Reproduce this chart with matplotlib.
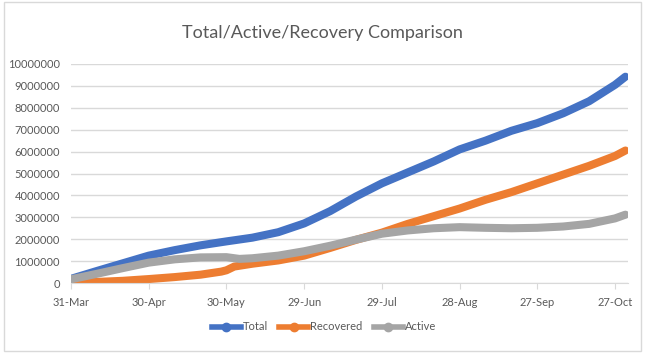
import datetime as dt
import matplotlib
matplotlib.use("Agg")
import matplotlib.pyplot as plt
import matplotlib.dates as mdates
from matplotlib.patches import Rectangle

# days since 31-Mar, values in millions
start = dt.date(2020, 3, 31)
days_total = [0, 10, 20, 30, 40, 50, 60, 70, 80, 90, 100, 110, 120, 130, 140, 150, 160, 170, 180, 190, 200, 210, 214]
total = [0.19, 0.55, 0.9, 1.25, 1.5, 1.72, 1.9, 2.07, 2.32, 2.72, 3.28, 3.95, 4.55, 5.05, 5.55, 6.1, 6.5, 6.95, 7.3, 7.75, 8.3, 9.05, 9.42]
days_rec = [0, 10, 20, 30, 40, 50, 58, 60, 63, 70, 80, 90, 100, 110, 120, 130, 140, 150, 160, 170, 180, 190, 200, 210, 214]
recovered = [0.01, 0.05, 0.1, 0.18, 0.27, 0.38, 0.52, 0.58, 0.75, 0.88, 1.03, 1.25, 1.6, 1.97, 2.3, 2.7, 3.05, 3.4, 3.8, 4.15, 4.55, 4.95, 5.35, 5.8, 6.05]
days_act = [0, 10, 20, 30, 40, 50, 60, 65, 70, 80, 90, 100, 110, 120, 130, 140, 150, 160, 170, 180, 190, 200, 210, 214]
active = [0.17, 0.42, 0.68, 0.93, 1.08, 1.17, 1.18, 1.1, 1.13, 1.25, 1.45, 1.7, 1.98, 2.25, 2.4, 2.5, 2.55, 2.52, 2.5, 2.52, 2.58, 2.7, 2.95, 3.12]

series = [
    ("Total", days_total, total, "#4472C4"),
    ("Recovered", days_rec, recovered, "#ED7D31"),
    ("Active", days_act, active, "#A5A5A5"),
]

plt.rcParams["font.family"] = ["Lato", "DejaVu Sans"]
txt = "#595959"
grid = "#D9D9D9"

fig = plt.figure(figsize=(6.53, 3.58), dpi=100)
fig.patches.append(Rectangle((4 / 653, 1 - 351 / 358), 637 / 653, 349 / 358,
                             transform=fig.transFigure, fill=False, edgecolor=grid, lw=1))
ax = fig.add_axes([71 / 653, 1 - 283 / 358, (628 - 71) / 653, (283 - 64) / 358])

for name, d, v, c in series:
    x = [start + dt.timedelta(days=k) for k in d]
    y = [val * 1e6 for val in v]
    ax.plot(x, y, color=c, lw=5.8, solid_capstyle="round", solid_joinstyle="round", label=name)

ax.set_ylim(0, 10_000_000)
ax.set_yticks(range(0, 10_000_001, 1_000_000))
ax.yaxis.set_major_formatter(matplotlib.ticker.FuncFormatter(lambda v, p: f"{int(v)}"))
ax.set_xlim(start, start + dt.timedelta(days=215))
ticks = [start + dt.timedelta(days=30 * i) for i in range(8)]
ax.set_xticks(ticks)
ax.xaxis.set_major_formatter(mdates.DateFormatter("%d-%b"))

ax.grid(axis="y", color=grid, lw=1)
ax.set_axisbelow(True)
for s in ["top", "right", "left"]:
    ax.spines[s].set_visible(False)
ax.spines["bottom"].set_color(grid)
ax.tick_params(axis="y", length=0, labelsize=8, labelcolor=txt, pad=8)
ax.tick_params(axis="x", length=4, color=grid, labelsize=8, labelcolor=txt, pad=6)

fig.text(322 / 653, 1 - 33 / 358, "Total/Active/Recovery Comparison", ha="center", va="center",
         fontsize=13, color=txt)

handles = [plt.Line2D([], [], color=c, lw=4, marker="o", ms=6) for _, _, _, c in series]
fig.legend(handles, [s[0] for s in series], loc="center", bbox_to_anchor=(324 / 653, 1 - 327 / 358),
           ncol=3, frameon=False, fontsize=8, labelcolor=txt, handlelength=2.6,
           handletextpad=0.2, columnspacing=1.0)

fig.savefig("out.png", dpi=100)
